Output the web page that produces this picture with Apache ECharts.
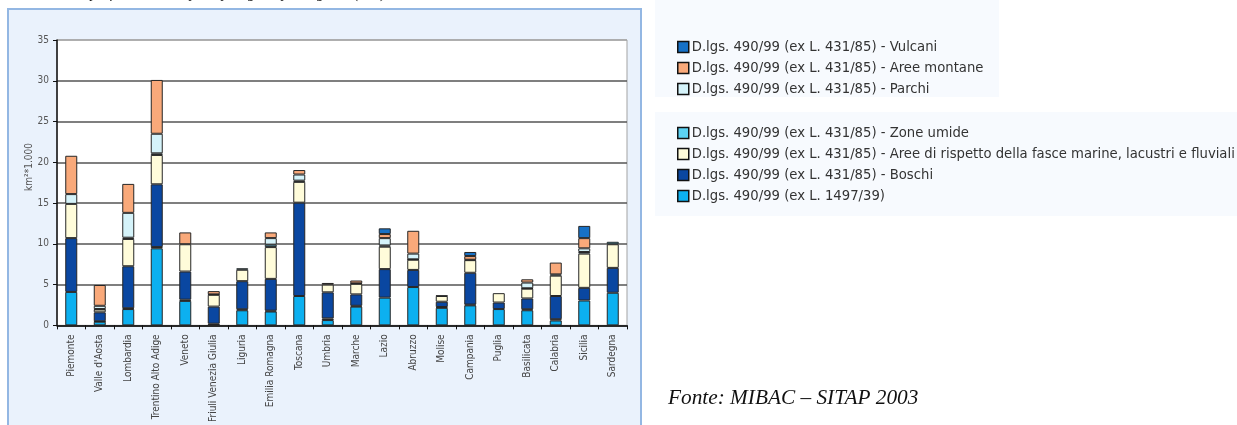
<!DOCTYPE html>
<html>
<head>
<meta charset="utf-8">
<script src="https://cdn.jsdelivr.net/npm/echarts@6/dist/echarts.min.js"></script>
<style>
  html, body { margin: 0; padding: 0; background: #ffffff; }
  #chart { width: 1237px; height: 425px; }
</style>
</head>
<body>
<div id="chart"></div>
<script>
// Regions on the category axis
const regions = ['Piemonte', "Valle d'Aosta", 'Lombardia', 'Trentino Alto Adige', 'Veneto',
  'Friuli Venezia Giulia', 'Liguria', 'Emilia Romagna', 'Toscana', 'Umbria', 'Marche',
  'Lazio', 'Abruzzo', 'Molise', 'Campania', 'Puglia', 'Basilicata', 'Calabria',
  'Sicilia', 'Sardegna'];

// Protected surface by legal source, km² * 1.000 (stacked bottom to top)
const exL1497   = [4.1, 0.45, 2.0, 9.45, 3.0, 0.05, 1.85, 1.7, 3.6, 0.65, 2.3, 3.4, 4.7, 2.15, 2.45, 2.0, 1.85, 0.6, 3.05, 4.0];
const altro     = [0, 0.05, 0.1, 0.15, 0.15, 0.15, 0.12, 0.1, 0, 0.2, 0.1, 0, 0, 0.1, 0.1, 0, 0.12, 0.15, 0, 0];
const boschi    = [6.6, 1.1, 5.15, 7.7, 3.45, 2.1, 3.45, 3.9, 11.45, 3.2, 1.4, 3.5, 2.1, 0.65, 3.9, 0.8, 1.33, 2.85, 1.55, 3.05];
const rispetto  = [4.2, 0.35, 3.35, 3.6, 3.35, 1.45, 1.4, 3.9, 2.55, 0.95, 1.3, 2.75, 1.25, 0.7, 1.55, 1.15, 1.2, 2.5, 4.2, 2.9];
const zoneUmide = [0, 0.05, 0.15, 0.2, 0, 0.05, 0.18, 0.3, 0.15, 0, 0.05, 0.15, 0.05, 0.05, 0.05, 0, 0.05, 0.15, 0.2, 0.3];
const parchi    = [1.2, 0.4, 3.05, 2.4, 0, 0, 0, 0.8, 0.75, 0, 0, 0.9, 0.7, 0, 0, 0, 0.7, 0, 0.45, 0];
const montane   = [4.7, 2.55, 3.55, 6.6, 1.45, 0.4, 0, 0.7, 0.55, 0.2, 0.35, 0.5, 2.8, 0, 0.45, 0, 0.4, 1.45, 1.25, 0];
const vulcani   = [0, 0, 0, 0, 0, 0, 0, 0, 0, 0, 0, 0.7, 0, 0, 0.5, 0, 0, 0, 1.5, 0];

const yTicks = [0, 5, 10, 15, 20, 25, 30, 35];

const N_VULC = 'D.lgs. 490/99 (ex L. 431/85) - Vulcani';
const N_MONT = 'D.lgs. 490/99 (ex L. 431/85) - Aree montane';
const N_PARC = 'D.lgs. 490/99 (ex L. 431/85) - Parchi';
const N_ZONE = 'D.lgs. 490/99 (ex L. 431/85) - Zone umide';
const N_RISP = 'D.lgs. 490/99 (ex L. 431/85) - Aree di rispetto della fasce marine, lacustri e fluviali';
const N_BOSC = 'D.lgs. 490/99 (ex L. 431/85) - Boschi';
const N_1497 = 'D.lgs. 490/99 (ex L. 1497/39)';

const FONT = '"Liberation Sans Narrow", "DejaVu Sans Condensed", Arial, sans-serif';
const SERIF = '"Liberation Serif", "DejaVu Serif", serif';

function stackSeries(name, values, color) {
  return {
    name: name,
    type: 'bar',
    stack: 'tot',
    barWidth: 12,
    data: values.map(v => (v > 0 ? v : null)),
    itemStyle: { color: color, borderColor: '#262626', borderWidth: 1 },
    emphasis: { disabled: true }
  };
}

function legendBlock(names, top) {
  return {
    data: names,
    orient: 'vertical', left: 677, top: top, padding: 0,
    itemWidth: 11, itemHeight: 11, itemGap: 6, icon: 'rect',
    itemStyle: { borderColor: '#111', borderWidth: 1.5 },
    textStyle: { fontFamily: FONT, fontSize: 14.7, color: '#333', padding: [0, 0, 0, -2] },
    selectedMode: false
  };
}

const chart = echarts.init(document.getElementById('chart'), null, { renderer: 'canvas' });

chart.setOption({
  animation: false,
  backgroundColor: '#ffffff',
  textStyle: { fontFamily: FONT },
  graphic: [
    // chart panel
    { type: 'rect', z: -10, shape: { x: 8, y: 9, width: 633, height: 430 },
      style: { fill: '#eaf2fc', stroke: '#93b7e3', lineWidth: 2 } },
    // legend panels
    { type: 'rect', z: -10, shape: { x: 655, y: 0, width: 344, height: 97 },
      style: { fill: '#f7fafe' } },
    { type: 'rect', z: -10, shape: { x: 655, y: 112, width: 582, height: 104 },
      style: { fill: '#f7fafe' } },
    // heading, cut by the top edge
    { type: 'text', x: 386, y: -6,
      style: { text: 'Superficie tutelata per tipologia e per regione (km²)', align: 'right',
               verticalAlign: 'middle', fill: '#111', font: 'italic 15px ' + SERIF } },
    // y axis unit
    { type: 'text', x: 29, y: 167, rotation: Math.PI / 2,
      style: { text: 'km²*1.000', align: 'center', verticalAlign: 'middle',
               fill: '#555', font: '10px ' + FONT } },
    // source note
    { type: 'text', x: 668, y: 398,
      style: { text: 'Fonte: MIBAC – SITAP 2003', align: 'left', verticalAlign: 'middle',
               fill: '#111', font: 'italic 21.3px ' + SERIF } }
  ],
  legend: [
    legendBlock([N_VULC, N_MONT, N_PARC], 39.5),
    legendBlock([N_ZONE, N_RISP, N_BOSC, N_1497], 125.5)
  ],
  grid: { left: 57, top: 40, width: 570, height: 287.3, show: true,
          backgroundColor: '#ffffff', borderColor: '#a3a3a3', borderWidth: 1 },
  xAxis: {
    type: 'category',
    data: regions,
    axisLine: { lineStyle: { color: '#111', width: 1.5 } },
    axisTick: { show: true, length: 4, lineStyle: { color: '#111' } },
    axisLabel: { rotate: 90, interval: 0, margin: 9, color: '#444', fontSize: 10, fontFamily: FONT }
  },
  yAxis: {
    type: 'value',
    min: 0, max: 35, interval: 5,
    axisLine: { show: true, lineStyle: { color: '#111', width: 1.5 } },
    axisTick: { show: true, length: 4, lineStyle: { color: '#111' } },
    axisLabel: { color: '#555', fontSize: 10, margin: 8, fontFamily: FONT,
                 formatter: v => (yTicks.indexOf(v) >= 0 ? String(v) : '') },
    splitLine: { show: true, lineStyle: {
      color: ['#555', '#555', '#555', '#555', '#555', '#555', '#555', '#a3a3a3'], width: 1.6 } }
  },
  series: [
    stackSeries(N_1497, exL1497, '#0cb0f0'),
    stackSeries('altro', altro, '#111111'),
    stackSeries(N_BOSC, boschi, '#0a47a1'),
    stackSeries(N_RISP, rispetto, '#fffcda'),
    stackSeries(N_ZONE, zoneUmide, '#5cd3f4'),
    stackSeries(N_PARC, parchi, '#d5f3fa'),
    stackSeries(N_MONT, montane, '#f9a97a'),
    stackSeries(N_VULC, vulcani, '#1771c6')
  ]
});
</script>
</body>
</html>
